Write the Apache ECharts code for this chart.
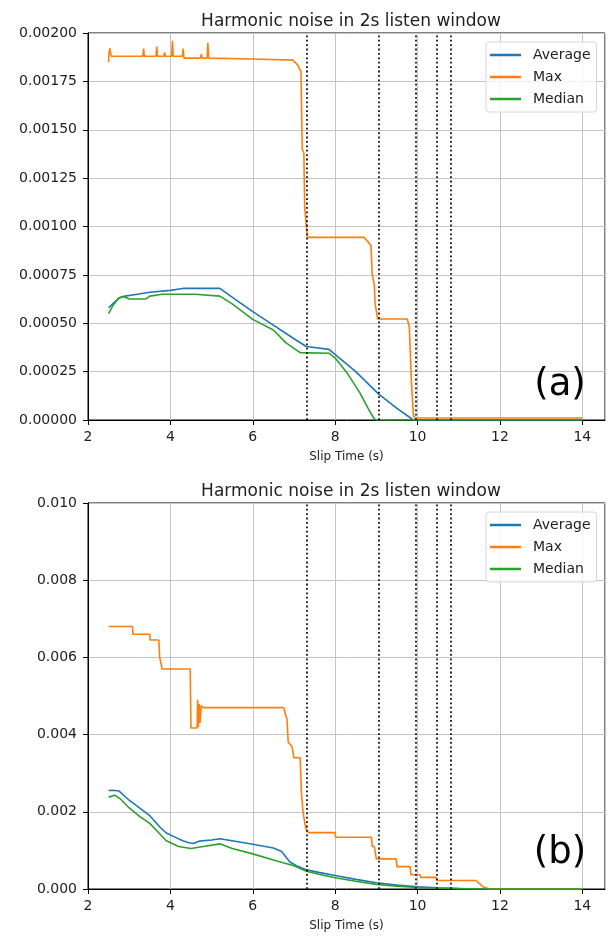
<!DOCTYPE html>
<html>
<head>
<meta charset="utf-8">
<script src="https://cdn.jsdelivr.net/npm/echarts@6/dist/echarts.min.js"></script>
<style>
  html, body { margin: 0; padding: 0; background: #fff; }
  #chart { width: 608px; height: 936px; }
</style>
</head>
<body>
<div id="chart"></div>
<script>
// vertical dotted marker times (s)
const markerTimes = [7.3, 9.05, 9.95, 10.46, 10.81]
const xTicksMin = 2
const xTicksMax = 14.55

// panel (a): [slip time, value]
const aAverage = [
  [2.5, 0.00058], [2.6, 0.0006], [2.75, 0.00063], [2.9, 0.00064], [3.2, 0.00065],
  [3.5, 0.00066], [4.0, 0.00067], [4.3, 0.00068], [5.2, 0.00068], [5.6, 0.00062],
  [6.0, 0.00056], [6.5, 0.00049], [7.0, 0.00042], [7.3, 0.00038], [7.85, 0.000365],
  [8.5, 0.00025], [9.05, 0.000135], [9.5, 0.00006], [9.9, 0.0], [14.0, 0.0]
]
const aMax = [
  [2.5, 0.00185], [2.51, 0.0019], [2.53, 0.00192], [2.56, 0.00188], [2.94, 0.00188],
  [2.96, 0.00189], [2.98, 0.00188], [3.33, 0.00188], [3.35, 0.00192], [3.37, 0.00188],
  [3.65, 0.00188], [3.67, 0.00193], [3.69, 0.00188], [3.84, 0.00188], [3.86, 0.0019],
  [3.88, 0.00188], [4.03, 0.00188], [4.05, 0.00196], [4.07, 0.00188], [4.29, 0.00188],
  [4.31, 0.00192], [4.33, 0.00187], [4.73, 0.00187], [4.75, 0.00189], [4.77, 0.00187],
  [4.89, 0.00187], [4.91, 0.00195], [4.93, 0.00187], [6.0, 0.001866], [6.97, 0.00186],
  [7.09, 0.001835], [7.17, 0.0018], [7.2, 0.0014], [7.24, 0.00138], [7.26, 0.0011],
  [7.3, 0.001], [7.33, 0.000944], [8.7, 0.000944], [8.8, 0.00092], [8.87, 0.0009],
  [8.9, 0.00075], [8.95, 0.0007], [8.97, 0.0006], [9.03, 0.000522], [9.75, 0.000522],
  [9.8, 0.00048], [9.85, 0.0002], [9.9, 0.00002], [9.95, 0.00001], [14.0, 0.00001]
]
const aMedian = [
  [2.5, 0.00055], [2.6, 0.00059], [2.75, 0.00063], [2.85, 0.00064], [3.0, 0.000625],
  [3.4, 0.000625], [3.5, 0.00064], [3.8, 0.00065], [4.6, 0.00065], [5.2, 0.00064],
  [5.5, 0.0006], [6.0, 0.00052], [6.5, 0.000465], [6.8, 0.0004], [7.0, 0.00037],
  [7.15, 0.000348], [7.85, 0.000345], [8.0, 0.00032], [8.3, 0.00024], [8.6, 0.00014],
  [8.8, 0.00006], [8.95, 0.000005], [9.0, 0.0], [14.0, 0.0]
]

// panel (b): [slip time, value]
const bAverage = [
  [2.5, 0.00255], [2.6, 0.00256], [2.75, 0.00254], [3.0, 0.0023], [3.25, 0.0021],
  [3.5, 0.0019], [3.75, 0.0016], [3.9, 0.00145], [4.1, 0.00135], [4.3, 0.00125],
  [4.45, 0.0012], [4.55, 0.00118], [4.7, 0.00124], [5.0, 0.00127], [5.2, 0.0013],
  [5.5, 0.00125], [6.0, 0.00116], [6.5, 0.00106], [6.7, 0.00097], [6.9, 0.0007],
  [7.1, 0.00058], [7.3, 0.0005], [7.6, 0.00043], [8.0, 0.00035], [8.5, 0.00025],
  [9.0, 0.00016], [9.5, 0.0001], [10.0, 0.00006], [10.5, 0.00003], [11.0, 0.00001],
  [11.5, 0.0], [14.0, 0.0]
]
const bMax = [
  [2.5, 0.0068], [3.08, 0.0068], [3.09, 0.0066], [3.5, 0.0066], [3.51, 0.00645],
  [3.72, 0.00645], [3.74, 0.006], [3.8, 0.0057], [4.48, 0.0057], [4.5, 0.00417],
  [4.65, 0.00417], [4.66, 0.0049], [4.68, 0.0042], [4.7, 0.0048], [4.72, 0.0043],
  [4.75, 0.00475], [4.8, 0.0047], [6.75, 0.0047], [6.8, 0.0045], [6.83, 0.0044],
  [6.86, 0.0038], [6.95, 0.0037], [7.0, 0.0034], [7.15, 0.0034], [7.18, 0.0025],
  [7.22, 0.002], [7.28, 0.0016], [7.3, 0.00154], [7.35, 0.00146], [8.0, 0.00146],
  [8.01, 0.00134], [8.88, 0.00134], [8.9, 0.0011], [8.95, 0.0011], [9.0, 0.00078],
  [9.48, 0.00078], [9.5, 0.00058], [9.82, 0.00058], [9.84, 0.00037], [10.06, 0.00037],
  [10.08, 0.0003], [10.45, 0.0003], [10.47, 0.00022], [11.42, 0.00022], [11.6, 0.00005],
  [11.75, 0.0], [14.0, 0.0]
]
const bMedian = [
  [2.5, 0.00238], [2.65, 0.00243], [2.8, 0.00232], [3.0, 0.0021], [3.25, 0.00188],
  [3.5, 0.0017], [3.75, 0.00142], [3.9, 0.00125], [4.2, 0.0011], [4.5, 0.00105],
  [4.8, 0.0011], [5.2, 0.00117], [5.5, 0.00105], [6.0, 0.00091], [6.5, 0.00075],
  [7.0, 0.0006], [7.3, 0.00046], [7.6, 0.00038], [8.0, 0.00029], [8.5, 0.0002],
  [9.0, 0.00012], [9.5, 0.00007], [10.0, 0.00004], [10.5, 0.00002], [11.0, 0.00001],
  [11.5, 0.0], [14.0, 0.0]
]

const FONT = 'DejaVu Sans'
const TXT = '#222'
const GRIDC = '#c4c4c4'
const C_AVG = '#1f77b4'
const C_MAX = '#ff7f0e'
const C_MED = '#2ca02c'

function xAxisFor(gridIndex) {
  return {
    type: 'value', gridIndex,
    min: xTicksMin, max: xTicksMax, interval: 2,
    name: 'Slip Time (s)', nameLocation: 'middle', nameGap: 31,
    nameTextStyle: { fontFamily: FONT, fontSize: 12, color: TXT },
    axisLine: { show: true, onZero: false, lineStyle: { color: '#000', width: 1 } },
    axisTick: { show: true, length: 5, lineStyle: { color: '#000' } },
    axisLabel: { fontFamily: FONT, fontSize: 14, color: TXT, margin: 10, showMaxLabel: false },
    splitLine: { show: true, lineStyle: { color: GRIDC, width: 1 } }
  }
}

function yAxisFor(gridIndex, max, interval, digits) {
  return {
    type: 'value', gridIndex, min: 0, max, interval,
    axisLine: { show: true, lineStyle: { color: '#000', width: 1 } },
    axisTick: { show: true, length: 5, lineStyle: { color: '#000' } },
    axisLabel: { fontFamily: FONT, fontSize: 14, color: TXT, margin: 11,
      formatter: v => v.toFixed(digits) },
    splitLine: { show: true, lineStyle: { color: GRIDC, width: 1 } }
  }
}

function lineSeries(name, color, data, idx, withMarks) {
  const s = {
    name, type: 'line', data, xAxisIndex: idx, yAxisIndex: idx,
    showSymbol: false, symbol: 'none', animation: false,
    lineStyle: { color, width: 1.6 }, itemStyle: { color }
  }
  if (withMarks) {
    s.markLine = {
      silent: true, symbol: 'none', animation: false,
      label: { show: false },
      lineStyle: { color: '#111', width: 1.8, type: [1.8, 2.6] },
      data: markerTimes.map(t => ({ xAxis: t }))
    }
  }
  return s
}

function legendFor(top) {
  return {
    orient: 'vertical', left: 486, top,
    data: ['Average', 'Max', 'Median'],
    icon: 'rect', itemWidth: 31, itemHeight: 2.5, itemGap: 8,
    padding: [6, 6, 6, 4],
    backgroundColor: 'rgba(255,255,255,0.8)',
    borderColor: '#d6d6d6', borderWidth: 1, borderRadius: 3,
    textStyle: { fontFamily: FONT, fontSize: 14, color: TXT, padding: [0, 0, 0, 7] },
    selectedMode: false
  }
}

const chart = echarts.init(document.getElementById('chart'))
chart.setOption({
  backgroundColor: '#fff',
  title: [
    { text: 'Harmonic noise in 2s listen window', left: 346, top: 8, textAlign: 'center',
      textStyle: { fontFamily: FONT, fontSize: 17, fontWeight: 'normal', color: TXT } },
    { text: 'Harmonic noise in 2s listen window', left: 346, top: 478, textAlign: 'center',
      textStyle: { fontFamily: FONT, fontSize: 17, fontWeight: 'normal', color: TXT } },
    { text: '(a)', left: 555, top: 362, textAlign: 'center',
      textStyle: { fontFamily: FONT, fontSize: 37, fontWeight: 'normal', color: '#000' } },
    { text: '(b)', left: 555, top: 830, textAlign: 'center',
      textStyle: { fontFamily: FONT, fontSize: 37, fontWeight: 'normal', color: '#000' } }
  ],
  legend: [legendFor(42), legendFor(512)],
  grid: [
    { left: 88, right: 3, top: 33, height: 387, show: true, borderColor: '#000', borderWidth: 1 },
    { left: 88, right: 3, top: 503, height: 386, show: true, borderColor: '#000', borderWidth: 1 }
  ],
  xAxis: [xAxisFor(0), xAxisFor(1)],
  yAxis: [yAxisFor(0, 0.002, 0.00025, 5), yAxisFor(1, 0.01, 0.002, 3)],
  series: [
    lineSeries('Average', C_AVG, aAverage, 0, true),
    lineSeries('Max', C_MAX, aMax, 0, false),
    lineSeries('Median', C_MED, aMedian, 0, false),
    lineSeries('Average', C_AVG, bAverage, 1, true),
    lineSeries('Max', C_MAX, bMax, 1, false),
    lineSeries('Median', C_MED, bMedian, 1, false)
  ]
})
</script>
</body>
</html>
